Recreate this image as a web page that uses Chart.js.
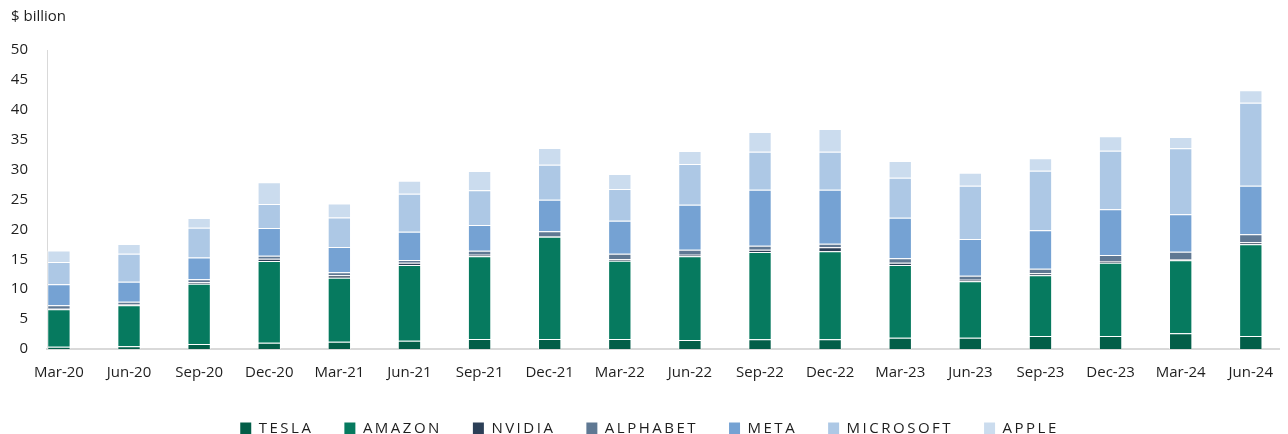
<!DOCTYPE html>
<html>
<head>
<meta charset="utf-8">
<script src="https://cdn.jsdelivr.net/npm/chart.js@4"></script>
<style>
  body { margin: 0; background: #fff; }
  #wrap { width: 1288px; height: 434px; }
</style>
</head>
<body>
<div id="wrap"><canvas id="myChart"></canvas></div>
<script>
// Quarters
const categories = ['Mar-20', 'Jun-20', 'Sep-20', 'Dec-20', 'Mar-21', 'Jun-21', 'Sep-21', 'Dec-21', 'Mar-22',
  'Jun-22', 'Sep-22', 'Dec-22', 'Mar-23', 'Jun-23', 'Sep-23', 'Dec-23', 'Mar-24', 'Jun-24'];

// $ billion per company
const tesla = [0.38, 0.45, 0.84, 1.05, 1.22, 1.39, 1.67, 1.67, 1.67, 1.5, 1.62, 1.62, 1.89, 1.89, 2.17, 2.17, 2.62, 2.17];
const amazon = [6.25, 6.86, 10.08, 13.67, 10.7, 12.66, 13.83, 17.11, 13.1, 14.0, 14.6, 14.72, 12.16, 9.43, 10.15, 12.26, 12.21, 15.34];
const nvidia = [0.1, 0.2, 0.23, 0.38, 0.4, 0.38, 0.27, 0.05, 0.23, 0.27, 0.38, 0.66, 0.38, 0.27, 0.34, 0.29, 0.22, 0.33];
const alphabet = [0.6, 0.4, 0.5, 0.5, 0.5, 0.45, 0.67, 0.85, 0.94, 0.83, 0.67, 0.61, 0.74, 0.67, 0.77, 1.0, 1.22, 1.34];
const meta = [3.5, 3.34, 3.67, 4.63, 4.23, 4.74, 4.3, 5.29, 5.51, 7.53, 9.37, 9.03, 6.79, 6.13, 6.42, 7.64, 6.26, 8.13];
const microsoft = [3.73, 4.69, 4.95, 4.02, 4.96, 6.35, 5.8, 5.85, 5.31, 6.81, 6.35, 6.35, 6.69, 8.92, 9.97, 9.8, 11.03, 13.88];
const apple = [1.9, 1.62, 1.62, 3.63, 2.34, 2.17, 3.23, 2.79, 2.5, 2.17, 3.3, 3.8, 2.79, 2.17, 2.07, 2.41, 1.89, 2.07];

const yTicks = [0, 5, 10, 15, 20, 25, 30, 35, 40, 45, 50];

const FONT = "'Open Sans', 'Noto Sans', sans-serif";
const TEXT = '#1e1e1e';

function series(label, values, color) {
  return {
    label: label,
    data: values.map((v, i) => ({ x: i, y: v })),
    backgroundColor: color,
    borderColor: 'rgba(255, 255, 255, 0.55)',
    borderWidth: 1,
    barPercentage: 0.333,
    categoryPercentage: 1
  };
}

// wider letter spacing for the legend labels only
const spacedLegend = {
  id: 'spacedLegend',
  afterInit(chart) {
    const lg = chart.legend;
    const fit = lg.fit;
    const draw = lg.draw;
    lg.fit = function () {
      chart.ctx.save();
      chart.ctx.letterSpacing = '2.5px';
      fit.call(this);
      chart.ctx.restore();
    };
    lg.draw = function () {
      chart.ctx.save();
      chart.ctx.letterSpacing = '2.5px';
      draw.call(this);
      chart.ctx.restore();
    };
  }
};

const config = {
  type: 'bar',
  data: {
    datasets: [
      series('TESLA', tesla, '#035E48'),
      series('AMAZON', amazon, '#067A5F'),
      series('NVIDIA', nvidia, '#2C3F57'),
      series('ALPHABET', alphabet, '#5F7893'),
      series('META', meta, '#75A2D3'),
      series('MICROSOFT', microsoft, '#ADC8E5'),
      series('APPLE', apple, '#CBDCEE')
    ]
  },
  options: {
    responsive: true,
    maintainAspectRatio: false,
    animation: false,
    layout: { padding: { left: 11, right: 0, top: 0, bottom: 0 } },
    scales: {
      x: {
        type: 'linear',
        stacked: true,
        offset: false,
        min: -0.17,
        max: 17.41,
        grid: { display: false, drawTicks: false },
        border: { display: true, color: '#d9d9d9', width: 2 },
        afterBuildTicks: s => { s.ticks = categories.map((c, i) => ({ value: i })); },
        afterFit: s => { s.height = 41; },
        ticks: {
          autoSkip: false,
          maxRotation: 0,
          padding: 15,
          color: TEXT,
          font: { family: FONT, size: 15 },
          callback: v => categories[v]
        }
      },
      y: {
        stacked: true,
        min: 0,
        max: 50,
        grid: { display: false, drawTicks: false },
        border: { display: true, color: '#d9d9d9', width: 1 },
        afterBuildTicks: s => { s.ticks = yTicks.map(v => ({ value: v })); },
        afterFit: s => { s.width = 36; },
        ticks: {
          padding: 19,
          color: TEXT,
          font: { family: FONT, size: 15 }
        }
      }
    },
    plugins: {
      title: {
        display: true,
        text: '$ billion',
        align: 'start',
        color: TEXT,
        font: { family: FONT, size: 15, weight: 'normal' },
        padding: { top: 8, bottom: 24 }
      },
      legend: {
        position: 'bottom',
        maxHeight: 44,
        labels: {
          boxWidth: 11,
          boxHeight: 12,
          padding: 31,
          color: TEXT,
          font: { family: FONT, size: 15 },
          generateLabels: c => Chart.defaults.plugins.legend.labels.generateLabels(c)
            .map(l => Object.assign(l, { lineWidth: 0 }))
        }
      },
      tooltip: { enabled: false }
    }
  },
  plugins: [spacedLegend]
};

var myChart = new Chart(document.getElementById('myChart'), config);
</script>
</body>
</html>
